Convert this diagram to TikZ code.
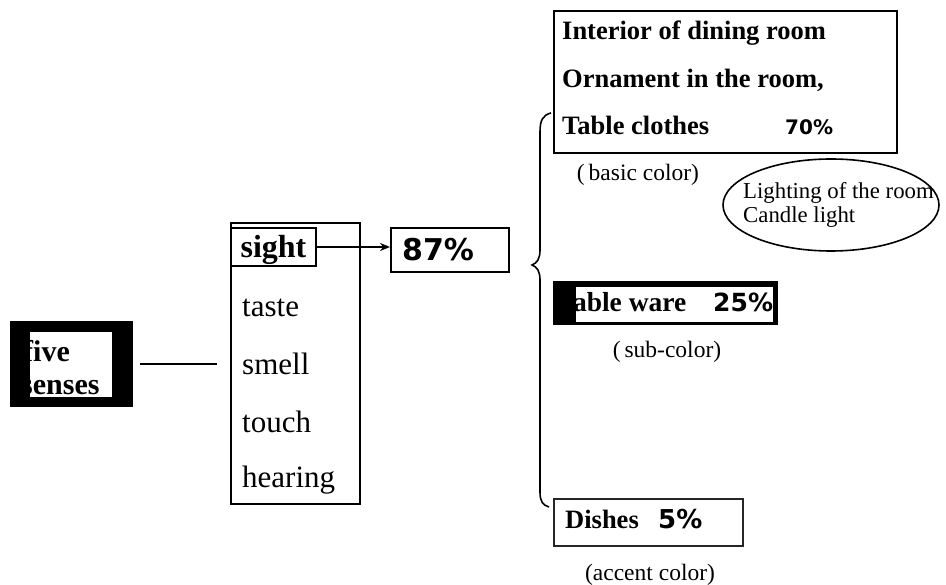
\documentclass[tikz,border=0pt]{standalone}
\usepackage{fontspec}
\setmainfont{Liberation Serif}
\newfontfamily\pctfont{DejaVu Sans}
\usetikzlibrary{arrows.meta,shapes.geometric}
\begin{document}
\begin{tikzpicture}[x=1pt,y=-1pt,
  box/.style={draw, line width=1.8pt, inner sep=0pt, anchor=north west},
  txt/.style={inner sep=0pt, anchor=base west},
  reg/.style={txt, font=\fontsize{31}{34}\selectfont},
  bld/.style={txt, font=\fontsize{26.5}{30}\selectfont\bfseries},
  pct/.style={txt, font=\pctfont\bfseries\fontsize{#1}{#1}\selectfont},
  note/.style={inner sep=0pt, anchor=base, font=\fontsize{23.5}{26}\selectfont},
]
\useasboundingbox (0,0) rectangle (946,585);

% five senses
\node[fill=black, minimum width=123pt, minimum height=86pt, inner sep=0pt, anchor=north west] (fs) at (10,321) {};
\fill[white] (30,332) rectangle (112,397);
\begin{scope}
  \clip (30,332) rectangle (112,397);
  \node[txt, font=\fontsize{30}{34}\selectfont\bfseries] (five) at (23,362) {five};
  \node[txt, font=\fontsize{30}{34}\selectfont\bfseries] (senses) at (21,395) {senses};
\end{scope}

% list of senses
\node[box, line width=2pt, minimum width=129pt, minimum height=281pt] (list) at (230,222) {};
\node[draw, line width=2pt, inner xsep=0pt, inner ysep=4.5pt, text height=25.5pt, text depth=3.5pt,
      minimum width=85pt, anchor=base, font=\fontsize{32}{36}\selectfont\bfseries] (sight) at (273.5,258) {sight};
\node[reg] (taste) at (242,317) {taste};
\node[reg] (smell) at (242,375) {smell};
\node[reg] (touch) at (242,432) {touch};
\node[reg] (hearing) at (242,487) {hearing};

\draw[line width=1.8pt, shorten <=7pt, shorten >=13pt] (fs.east |- smell.west) -- (list.west |- smell.west);

% 87%
\node[box, line width=2pt, minimum width=118pt, minimum height=44pt] (p87) at (390,227) {};
\node[pct=30] (t87) at (402,261) {87\%};
\draw[line width=1.8pt, -{Stealth[length=10pt,width=8pt]}] (sight.east) -- (sight.east -| p87.west);

% brace
\draw[line width=1.6pt] (551,113) .. controls (543,115) and (540,120) .. (540,132) -- (540,250)
  .. controls (540,259) and (537,263) .. (532,265) .. controls (537,267) and (540,271) .. (540,280)
  -- (540,492) .. controls (540,502) and (543,505) .. (549,507);

% top box
\node[box, minimum width=343pt, minimum height=142pt] (tb) at (553,10) {};
\node[bld] (l1) at (562,40) {Interior of dining room};
\node[bld] (l2) at (562,88) {Ornament in the room,};
\node[bld] (l3) at (562,135) {Table clothes};
\node[pct=20] (p70) at (785,135) {70\%};
\node[note] (basic) at (638,181) {(\,basic color)};

% ellipse
\node[ellipse, draw, line width=1.6pt, minimum width=216pt, minimum height=92pt, inner sep=0pt] (light) at (831,205) {};
\node[txt, font=\fontsize{22.8}{24}\selectfont] (l4) at (743,199) {Lighting of the room};
\node[txt, font=\fontsize{22.8}{24}\selectfont] (l5) at (743,223) {Candle light};

% table ware
\node[fill=black, minimum width=225pt, minimum height=44pt, inner sep=0pt, anchor=north west] (tw) at (553,281) {};
\fill[white] (576,287) rectangle (773,322);
\begin{scope}
  \clip (576,287) rectangle (773,322);
  \node[txt, font=\fontsize{27.5}{30}\selectfont\bfseries] (twt) at (557,312) {Table ware};
  \node[pct=25] (p25) at (713,312) {25\%};
\end{scope}
\node[note] (sub) at (667,358) {(\,sub-color)};

% dishes
\node[box, draw=black!85, minimum width=189pt, minimum height=47pt] (ds) at (553,498) {};
\node[bld] (dt) at (565,528) {Dishes};
\node[pct=26] (p5) at (658,528) {5\%};
\node[note] (accent) at (650,580) {(accent color)};
\end{tikzpicture}
\end{document}
